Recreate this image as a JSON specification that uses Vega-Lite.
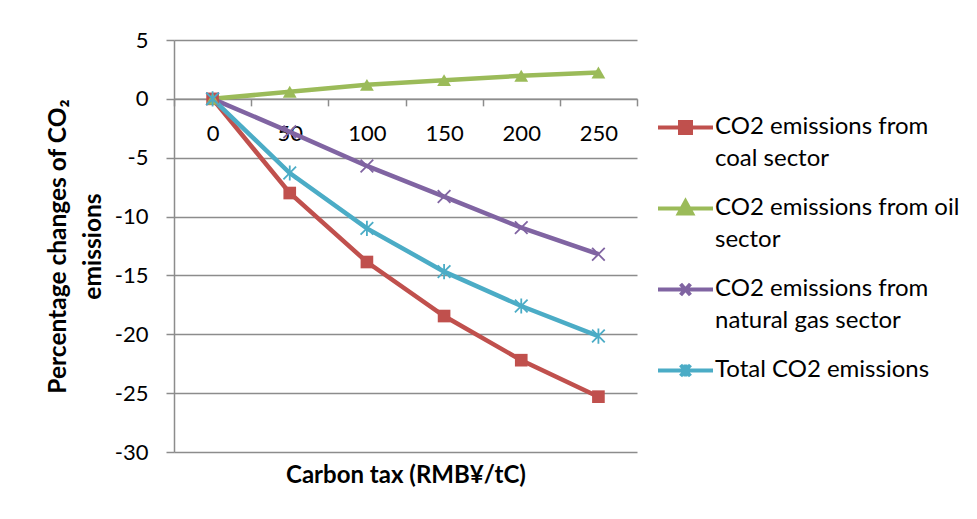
{
  "$schema": "https://vega.github.io/schema/vega-lite/v6.json",
  "width": 463,
  "height": 412,
  "autosize": {"type": "none"},
  "padding": {"left": 174, "top": 40, "right": 340, "bottom": 67},
  "background": "white",
  "config": {
    "font": "Lato",
    "view": {"stroke": null},
    "axis": {"labelColor": "#000000", "titleColor": "#000000", "domainColor": "#8c8c8c", "tickColor": "#8c8c8c", "gridColor": "#8c8c8c", "domainWidth": 1.5, "tickWidth": 1.5, "gridWidth": 1.3}
  },
  "data": {
    "values": [
      {"tax": 0, "series": "CO2 emissions from coal sector", "value": 0},
      {"tax": 50, "series": "CO2 emissions from coal sector", "value": -8.0},
      {"tax": 100, "series": "CO2 emissions from coal sector", "value": -13.86},
      {"tax": 150, "series": "CO2 emissions from coal sector", "value": -18.45},
      {"tax": 200, "series": "CO2 emissions from coal sector", "value": -22.2},
      {"tax": 250, "series": "CO2 emissions from coal sector", "value": -25.3},
      {"tax": 0, "series": "CO2 emissions from oil sector", "value": 0},
      {"tax": 50, "series": "CO2 emissions from oil sector", "value": 0.6},
      {"tax": 100, "series": "CO2 emissions from oil sector", "value": 1.19},
      {"tax": 150, "series": "CO2 emissions from oil sector", "value": 1.59},
      {"tax": 200, "series": "CO2 emissions from oil sector", "value": 1.96},
      {"tax": 250, "series": "CO2 emissions from oil sector", "value": 2.24},
      {"tax": 0, "series": "CO2 emissions from natural gas sector", "value": 0},
      {"tax": 50, "series": "CO2 emissions from natural gas sector", "value": -2.8},
      {"tax": 100, "series": "CO2 emissions from natural gas sector", "value": -5.7},
      {"tax": 150, "series": "CO2 emissions from natural gas sector", "value": -8.3},
      {"tax": 200, "series": "CO2 emissions from natural gas sector", "value": -10.94},
      {"tax": 250, "series": "CO2 emissions from natural gas sector", "value": -13.2},
      {"tax": 0, "series": "Total CO2 emissions", "value": 0},
      {"tax": 50, "series": "Total CO2 emissions", "value": -6.3},
      {"tax": 100, "series": "Total CO2 emissions", "value": -11.0},
      {"tax": 150, "series": "Total CO2 emissions", "value": -14.68},
      {"tax": 200, "series": "Total CO2 emissions", "value": -17.6},
      {"tax": 250, "series": "Total CO2 emissions", "value": -20.15}
    ]
  },
  "encoding": {
    "x": {
      "field": "tax", "type": "ordinal",
      "scale": {"type": "band", "paddingInner": 0, "paddingOuter": 0},
      "axis": {
        "title": "Carbon tax (RMB¥/tC)", "titleFontSize": 24, "titleFontWeight": "bold",
        "titleY": 377, "titleBaseline": "middle",
        "offset": -353.14, "tickBand": "extent", "tickSize": 7,
        "labelAngle": 0, "labelFontSize": 22, "labelPadding": 18, "grid": false
      }
    },
    "y": {
      "field": "value", "type": "quantitative",
      "scale": {"domain": [-30, 5], "nice": false, "zero": false},
      "axis": {
        "title": ["Percentage changes of CO₂", "emissions"], "titleFontSize": 24.5, "titleFontWeight": "bold",
        "titleLineHeight": 35, "titleBaseline": "middle", "titleX": -116, "titleY": 206, "titleAngle": -90,
        "values": [-30, -25, -20, -15, -10, -5, 0, 5], "tickSize": 8,
        "labelExpr": "toString(datum.value)",
        "labelFontSize": 22, "labelPadding": 18, "grid": true, "domain": true
      }
    }
  },
  "layer": [
    {
      "mark": {"type": "line", "strokeWidth": 4.5},
      "encoding": {
        "color": {
          "field": "series", "type": "nominal",
          "scale": {
            "domain": ["CO2 emissions from coal sector", "CO2 emissions from oil sector", "CO2 emissions from natural gas sector", "Total CO2 emissions"],
            "range": ["#C0504D", "#9BBB59", "#8064A2", "#4BACC6"]
          },
          "legend": {
            "title": null, "orient": "none", "legendX": 482, "legendY": 58,
            "symbolSize": 3025, "symbolStrokeWidth": 4, "labelFontSize": 24, "labelColor": "#000000",
            "labelLimit": 0, "labelOffset": 0, "rowPadding": 8, "labelBaseline": "top",
            "labelExpr": "indexof(datum.label,'coal')>=0 ? ['CO2 emissions from','coal sector'] : indexof(datum.label,'oil')>=0 ? ['CO2 emissions from oil','sector'] : indexof(datum.label,'gas')>=0 ? ['CO2 emissions from','natural gas sector'] : datum.label",
            "encode": {
              "symbols": {"update": {
                "shape": {"signal": "indexof(datum.value,'coal')>=0 ? 'M-1,0H1M-0.2,-0.2H0.2V0.2H-0.2Z' : indexof(datum.value,'oil')>=0 ? 'M-1,0H1M0,-0.26L0.24,0.18H-0.24Z' : indexof(datum.value,'gas')>=0 ? 'M-1,0H1M-0.18,-0.2L0.18,0.2M-0.18,0.2L0.18,-0.2' : 'M-1,0H1M-0.18,-0.2L0.18,0.2M-0.18,0.2L0.18,-0.2M0,-0.22V0.22'"},
                "fill": {"signal": "scale('color', datum.value)"},
                "stroke": {"signal": "scale('color', datum.value)"},
                "strokeWidth": {"value": 4},
                "opacity": {"value": 1}
              }},
              "labels": {"update": {"dy": {"value": -13}, "lineHeight": {"value": 32}}}
            }
          }
        }
      }
    },
    {
      "transform": [{"filter": "datum.series === 'CO2 emissions from coal sector'"}],
      "mark": {"type": "point", "filled": true, "size": 160, "opacity": 1, "shape": "square", "color": "#C0504D"}
    },
    {
      "transform": [{"filter": "datum.series === 'CO2 emissions from oil sector'"}],
      "mark": {"type": "point", "filled": true, "size": 190, "opacity": 1, "shape": "triangle-up", "color": "#9BBB59"}
    },
    {
      "transform": [{"filter": "datum.series === 'CO2 emissions from natural gas sector'"}],
      "mark": {"type": "point", "filled": false, "size": 160, "opacity": 1, "strokeWidth": 1.8, "shape": "M-1,-1L1,1M-1,1L1,-1", "color": "#8064A2"}
    },
    {
      "transform": [{"filter": "datum.series === 'Total CO2 emissions'"}],
      "mark": {"type": "point", "filled": false, "size": 160, "opacity": 1, "strokeWidth": 1.8, "shape": "M-1,-1L1,1M-1,1L1,-1M0,-1.2L0,1.2", "color": "#4BACC6"}
    }
  ]
}
